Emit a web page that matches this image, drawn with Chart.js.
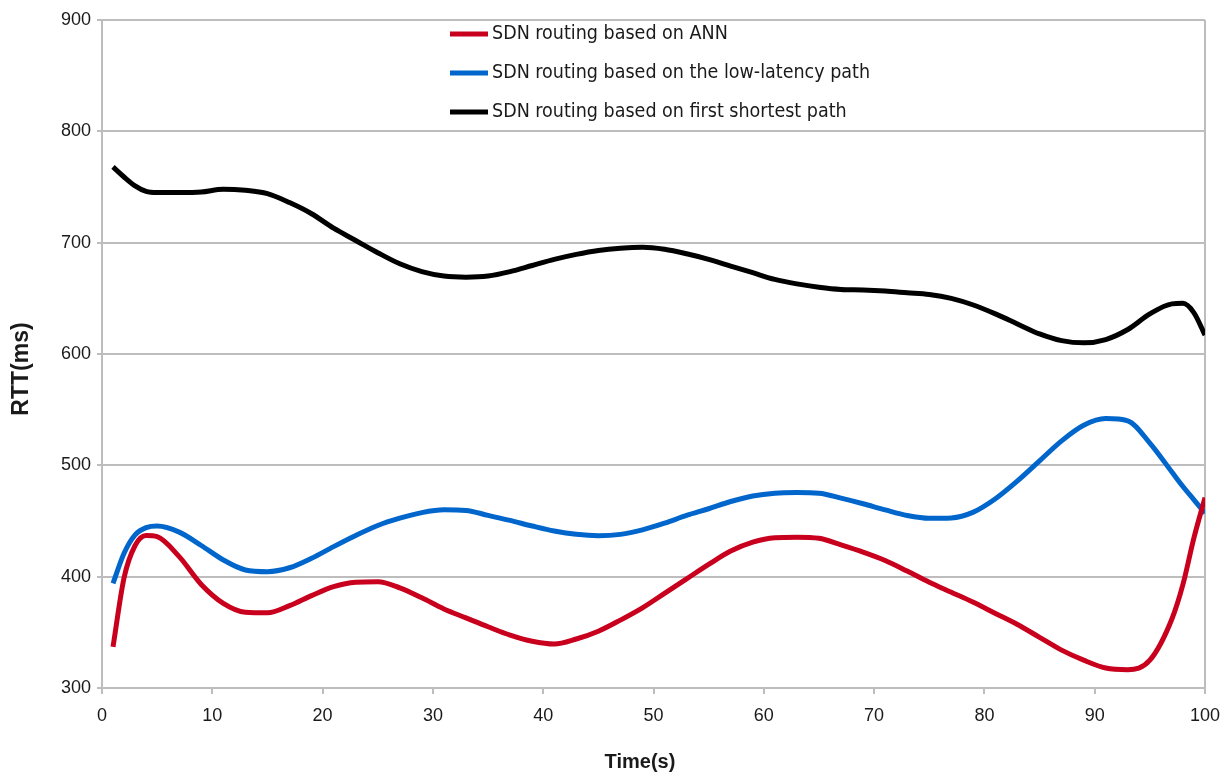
<!DOCTYPE html>
<html>
<head>
<meta charset="utf-8">
<script src="https://cdn.jsdelivr.net/npm/chart.js@4.4.1/dist/chart.umd.min.js"></script>
<style>
  html, body { margin: 0; padding: 0; background: #ffffff; }
  #wrap { width: 1229px; height: 775px; position: relative; }
</style>
</head>
<body>
<div id="wrap"><canvas id="rtt"></canvas></div>
<script>
// Sample times (s)
const times = [1, 2, 3, 4, 5, 7, 9, 11, 13, 15, 17, 19, 21, 23, 25, 27, 29, 31, 33, 35,
  37, 39, 41, 43, 45, 47, 49, 51, 53, 55, 57, 59, 61, 63, 65, 67, 69, 71, 73, 75,
  77, 79, 81, 83, 85, 87, 89, 91, 93, 95, 97, 98, 99, 100];

// RTT (ms) for each routing scheme
const annRtt = [337, 399, 428, 437, 436, 418, 393, 376, 368, 367.5, 374, 383, 391, 395, 395.5, 390, 381, 371, 363, 355,
  347.5, 342, 339.5, 344, 351, 361, 372, 385, 398, 411, 423, 431, 435, 435.5, 434.5, 428.5, 422, 414.5, 405, 395,
  386, 377, 367, 357, 345.5, 334, 325, 318, 316.5, 325, 362, 393, 435, 471];

const lowLatencyRtt = [394, 421, 437.5, 444, 445.5, 440, 428, 415, 406, 404.5, 408, 416.5, 427, 437, 446, 452.5, 457.5, 460, 459.5, 455,
  450.5, 445.5, 441, 438, 436.8, 438, 442, 448, 455, 461, 467.5, 472.5, 475, 475.5, 475, 470.5, 465.5, 460, 455, 452.5,
  452.8, 458, 470, 486, 504, 522, 536, 542, 540, 520, 494, 481, 469, 457];

const shortestPathRtt = [768, 759, 751, 746, 745, 745, 745.5, 748, 747, 744, 736, 726, 713, 702, 691, 681, 674, 670, 669, 670,
  674, 679.5, 685, 689.5, 693, 695, 695.8, 694, 690, 685, 679, 673, 667, 663, 660, 658, 657.5, 656.5, 655, 653.5,
  650, 644, 636, 627, 618, 612, 610, 613, 622, 636, 645, 645.5, 637, 617];

const seriesNames = [
  'SDN routing based on ANN',
  'SDN routing based on the low-latency path',
  'SDN routing based on first shortest path'
];
const seriesColors = ['#c8001e', '#0066cc', '#000000'];
const seriesValues = [annRtt, lowLatencyRtt, shortestPathRtt];

const xTicks = [0, 10, 20, 30, 40, 50, 60, 70, 80, 90, 100];
const yTicks = [300, 400, 500, 600, 700, 800, 900];

const xTitle = 'Time(s)';
const yTitle = 'RTT(ms)';

const gridColor = '#bdbdbd';
const textColor = '#1a1a1a';
const titleFont = 'bold 20px "Liberation Sans", Arial, sans-serif';

const datasets = seriesValues.map((vals, i) => ({
  label: seriesNames[i],
  data: times.map((t, k) => ({ x: t, y: vals[k] })),
  borderColor: seriesColors[i],
  backgroundColor: seriesColors[i],
  borderWidth: 5,
  pointRadius: 0,
  fill: false,
  cubicInterpolationMode: 'monotone',
  borderCapStyle: 'butt',
  borderJoinStyle: 'round'
}));

// Legend drawn inside the plot above the curves, plus the two axis titles
const annotations = {
  id: 'annotations',
  afterDatasetsDraw(chart) {
    const ctx = chart.ctx;
    const x0 = 450, x1 = 488, tx = 492;
    const rows = [34, 73, 112];
    ctx.save();
    chart.data.datasets.forEach((ds, i) => {
      const y = rows[i];
      ctx.strokeStyle = ds.borderColor;
      ctx.lineWidth = 5;
      ctx.lineCap = 'butt';
      ctx.beginPath();
      ctx.moveTo(x0, y);
      ctx.lineTo(x1, y);
      ctx.stroke();
      ctx.fillStyle = textColor;
      ctx.font = '19.5px "DejaVu Sans Condensed", "DejaVu Sans", sans-serif';
      ctx.textAlign = 'left';
      ctx.textBaseline = 'middle';
      ctx.fillText(ds.label, tx, y);
    });

    // axis titles
    ctx.fillStyle = textColor;
    ctx.font = titleFont;
    ctx.textAlign = 'center';
    ctx.textBaseline = 'middle';
    ctx.fillText(xTitle, 640, 762);

    ctx.translate(22, 369);
    ctx.rotate(-Math.PI / 2);
    ctx.font = 'bold 23px "Liberation Sans", Arial, sans-serif';
    ctx.fillText(yTitle, 0, 0);
    ctx.restore();
  }
};

new Chart(document.getElementById('rtt'), {
  type: 'line',
  data: { datasets },
  plugins: [annotations],
  options: {
    responsive: true,
    maintainAspectRatio: false,
    animation: false,
    layout: { padding: { top: 20, right: 24, bottom: 0, left: 0 } },
    plugins: {
      legend: { display: false },
      tooltip: { enabled: false }
    },
    scales: {
      x: {
        type: 'linear',
        min: 0,
        max: 100,
        afterBuildTicks(scale) { scale.ticks = xTicks.map(v => ({ value: v })); },
        afterFit(scale) {
          scale.height = 87;
          scale.paddingLeft = 0;
          scale.paddingRight = 0;
        },
        grid: {
          color: c => (c.tick && c.tick.value === 100 ? gridColor : 'rgba(0,0,0,0)'),
          lineWidth: 2,
          tickColor: gridColor,
          tickLength: 6,
          drawTicks: true
        },
        border: { display: true, color: gridColor, width: 2 },
        ticks: {
          color: textColor,
          padding: 11,
          maxRotation: 0,
          font: { family: '"Liberation Sans", Arial, sans-serif', size: 18 }
        },
        title: { display: false }
      },
      y: {
        type: 'linear',
        min: 300,
        max: 900,
        afterBuildTicks(scale) { scale.ticks = yTicks.map(v => ({ value: v })); },
        afterFit(scale) { scale.width = 102; },
        grid: {
          color: gridColor,
          lineWidth: 2,
          tickColor: gridColor,
          tickLength: 5,
          drawTicks: true
        },
        border: { display: true, color: gridColor, width: 2 },
        ticks: {
          color: textColor,
          padding: 6,
          font: { family: '"Liberation Sans", Arial, sans-serif', size: 18 }
        },
        title: { display: false }
      }
    }
  }
});
</script>
</body>
</html>
